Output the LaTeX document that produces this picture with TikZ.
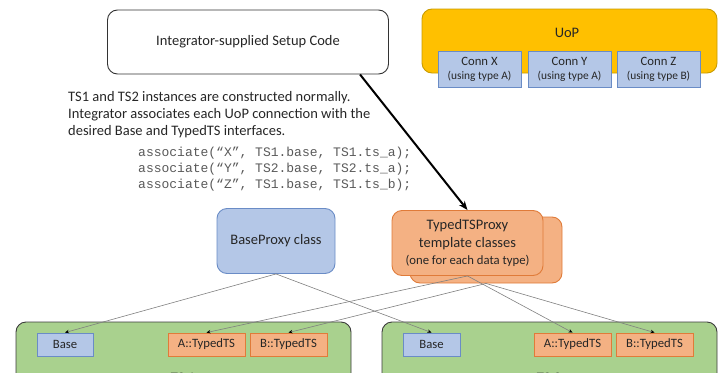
\documentclass[tikz,border=0pt]{standalone}
\usepackage{fontspec}
\setmainfont{Carlito}
\newfontfamily\codefont{Liberation Mono}
\usetikzlibrary{arrows.meta}
\definecolor{txt}{HTML}{262626}
\definecolor{codegray}{HTML}{595959}
\definecolor{bluefill}{HTML}{B4C7E7}
\definecolor{blueedge}{HTML}{6A8CC6}
\definecolor{orangefill}{HTML}{F4B183}
\definecolor{orangeedge}{HTML}{E07B39}
\definecolor{yellowfill}{HTML}{FFC000}
\definecolor{yellowedge}{HTML}{C89B00}
\definecolor{greenfill}{HTML}{A9D18E}
\definecolor{greenedge}{HTML}{3C3C3C}
\definecolor{linkgray}{HTML}{808080}
\newcommand{\bigfont}{\fontsize{14.5}{17}\selectfont}
\newcommand{\midfont}{\fontsize{12.7}{15}\selectfont}
\newcommand{\tinyfont}{\fontsize{11.4}{13}\selectfont}
\tikzset{
  every node/.style={text=txt, inner sep=0pt},
  rbox/.style={draw, rounded corners=10pt, line width=0.9pt, align=center},
  setupbox/.style={rbox, draw=black!80, fill=white, font=\bigfont},
  uopbox/.style={rbox, draw=yellowedge, fill=yellowfill},
  connbox/.style={draw=blueedge, fill=bluefill, line width=0.9pt, align=center, font=\midfont},
  proxyblue/.style={rbox, draw=blueedge, fill=bluefill, font=\bigfont},
  proxyorange/.style={rbox, draw=orangeedge, fill=orangefill, font=\fontsize{14.5}{17.5}\selectfont},
  tsbox/.style={draw=greenedge, fill=greenfill, rounded corners=10pt, line width=0.9pt},
  ifblue/.style={draw=blueedge, fill=bluefill, line width=0.9pt, font=\midfont},
  iforange/.style={draw=orangeedge, fill=orangefill, line width=0.9pt, font=\midfont},
  link/.style={draw=linkgray, line width=0.6pt, -{Stealth[length=4pt,width=3.5pt,color=black]}}
}
\begin{document}
\begin{tikzpicture}[x=1pt, y=-1pt]
\useasboundingbox (0,0) rectangle (722,372);

% setup code box and the note below it (base anchor sits on the last line)
\node[setupbox, minimum width=281pt, minimum height=64pt] (setup) at (248,42) {Integrator-supplied Setup Code};
\node[anchor=base west, align=left, font=\fontsize{14.5}{17}\selectfont] (note) at (68,135)
  {TS1 and TS2 instances are constructed normally.\\
   Integrator associates each UoP connection with the\\
   desired Base and TypedTS interfaces.};
\node[anchor=base west, align=left, text=codegray, font=\codefont\fontsize{13}{16}\selectfont] (code) at (138,188)
  {associate(“X”, TS1.base, TS1.ts\_a);\\
   associate(“Y”, TS2.base, TS2.ts\_a);\\
   associate(“Z”, TS1.base, TS1.ts\_b);};

% unit of portability with its connections
\node[uopbox, minimum width=295pt, minimum height=64pt] (uop) at (569.5,41) {};
\node[font=\bigfont] (uoplabel) at (567,33) {UoP};
\node[connbox, minimum width=83pt, minimum height=36pt] (connx) at (479.5,69)
  {Conn X\\[-1pt]{\tinyfont (using type A)}};
\node[connbox, minimum width=83pt, minimum height=36pt] (conny) at (569.5,69)
  {Conn Y\\[-1pt]{\tinyfont (using type A)}};
\node[connbox, minimum width=83pt, minimum height=36pt] (connz) at (658.5,69)
  {Conn Z\\[-1pt]{\tinyfont (using type B)}};

% proxy classes
\node[proxyblue, minimum width=118pt, minimum height=65pt] (baseproxy) at (276,241) {BaseProxy class};
\node[proxyorange, minimum width=152pt, minimum height=66pt] (typedback) at (486,250) {};
\node[proxyorange, minimum width=151pt, minimum height=65pt] (typedfront) at (467.5,243)
  {TypedTSProxy\\template classes\\{\midfont (one for each data type)}};

% TS1 and TS2 containers
\path[tsbox] (16,322) rectangle (351,420);
\path[tsbox] (382,322) rectangle (717,420);
\node[font=\bigfont] (tsonelabel) at (183,378) {TS 1};
\node[font=\bigfont] (tstwolabel) at (549,378) {TS 2};

\node[ifblue, minimum width=56pt, minimum height=23pt] (baseone) at (65,344.5) {Base};
\node[iforange, minimum width=77pt, minimum height=23pt] (aone) at (206.5,344.5) {A::TypedTS};
\node[iforange, minimum width=77pt, minimum height=23pt] (bone) at (288.5,344.5) {B::TypedTS};
\node[ifblue, minimum width=57pt, minimum height=23pt] (basetwo) at (431.5,344.5) {Base};
\node[iforange, minimum width=77pt, minimum height=23pt] (atwo) at (572.5,344.5) {A::TypedTS};
\node[iforange, minimum width=77pt, minimum height=23pt] (btwo) at (654.5,344.5) {B::TypedTS};

% connectors
\draw[link] (baseproxy.south) -- (baseone.north);
\draw[link] (baseproxy.south) -- (basetwo.north);
\draw[link] (typedfront.south) -- (aone.north);
\draw[link] (typedfront.south) -- (atwo.north);
\draw[link] (typedback.south) -- (bone.north);
\draw[link] (typedback.south) -- (btwo.north);

\draw[line width=2pt, -{Stealth[length=9pt,width=7pt]}] ([xshift=112pt]setup.south) -- (typedfront.north);
\end{tikzpicture}
\end{document}
